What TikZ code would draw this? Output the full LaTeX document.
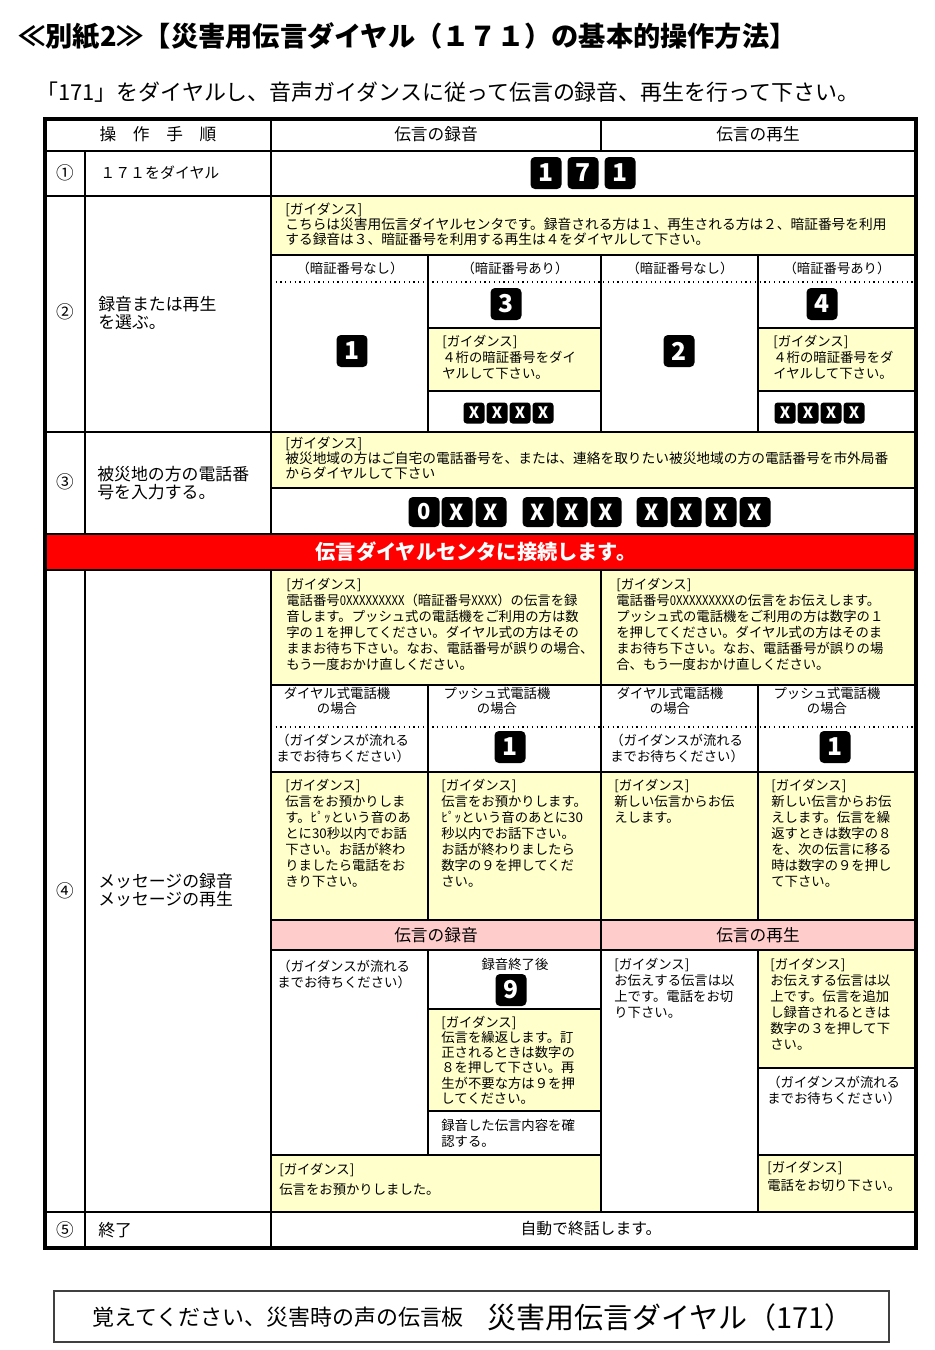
\documentclass[tikz,border=0pt]{standalone}
\usepackage{fontspec}
\usepackage{graphicx}
\setmainfont{Noto Sans CJK JP}
\usetikzlibrary{positioning}
\definecolor{Paper}{HTML}{FFFFFF}
\definecolor{GuideYellow}{HTML}{FFFFCC}
\definecolor{HeadPink}{HTML}{FFCCCC}
\definecolor{AlertRed}{HTML}{FF0000}
\definecolor{Ink}{HTML}{000000}
\definecolor{BoxGray}{HTML}{404040}
\newcommand{\xrun}[1]{\scalebox{0.85}[1]{#1}}

\begin{document}
\begin{tikzpicture}[x=0.02cm,y=-0.02cm,every node/.style={text=Ink,inner sep=0pt},frame/.style={line width=1.8pt,draw=Ink},major/.style={line width=1.1pt,draw=Ink},minor/.style={line width=0.75pt,draw=Ink},dotline/.style={line width=0.7pt,draw=Ink,dotted},guide/.style={anchor=north west,align=left,font=\fontsize{7.6}{9.1}\selectfont},guidewide/.style={anchor=north west,align=left,font=\fontsize{7.8}{8.4}\selectfont},steptext/.style={anchor=west,align=left,font=\fontsize{9.6}{10.2}\selectfont},stepnum/.style={font=\fontsize{10}{10}\selectfont},colhead/.style={font=\fontsize{9.5}{10}\selectfont},subhead/.style={align=center,font=\fontsize{7.6}{8.4}\selectfont},keycap/.style={fill=Ink,rounded corners=2.5pt,text=white,minimum width=0.62cm,minimum height=0.64cm,font=\fontsize{14}{14}\bfseries\selectfont},keymid/.style={keycap,minimum width=0.62cm,minimum height=0.6cm,font=\fontsize{12.5}{12.5}\bfseries\selectfont},keysmall/.style={keycap,rounded corners=1.8pt,minimum width=0.42cm,minimum height=0.42cm,font=\fontsize{9}{9}\bfseries\selectfont}]
\fill[Paper] (0,0) rectangle (935,1350);
\useasboundingbox (0,0) rectangle (935,1350);
\node[anchor=west,font=\fontsize{15.5}{16}\bfseries\selectfont] (title) at (18,36) {≪別紙2≫【災害用伝言ダイヤル（１７１）の基本的操作方法】};
\node[anchor=west,font=\fontsize{12.5}{13}\selectfont] (lead) at (36,92) {「171」をダイヤルし、音声ガイダンスに従って伝言の録音、再生を行って下さい。};
\foreach \a/\b/\c/\d in {271/196/916/255,428/328/601/391,758/328/916/391,271/432/916/488,271/570/916/685,271/772/916/920,428/1009/601/1111,271/1155/601/1212,758/950/916/1068,758/1155/916/1212}
  \fill[GuideYellow] (\a,\b) rectangle (\c,\d);
\fill[HeadPink] (271,920) rectangle (916,950);
\fill[AlertRed] (45,534) rectangle (916,570);
\foreach \y in {151,196,432,534,570,1212} \draw[major] (45,\y) -- (916,\y);
\draw[major] (85,151) -- (85,534) (85,570) -- (85,1248) (271,119) -- (271,534) (271,570) -- (271,1248);
\draw[minor] (601,119) -- (601,151) (601,255) -- (601,432) (601,570) -- (601,1212);
\draw[minor] (428,255) -- (428,432) (758,255) -- (758,432) (428,685) -- (428,920) (758,685) -- (758,920) (428,950) -- (428,1155) (758,950) -- (758,1212);
\foreach \y in {255,488,685,772,920,950} \draw[minor] (271,\y) -- (916,\y);
\foreach \y in {328,391} \draw[minor] (428,\y) -- (601,\y) (758,\y) -- (916,\y);
\draw[minor] (428,1009) -- (601,1009) (428,1111) -- (601,1111) (271,1155) -- (601,1155) (758,1068) -- (916,1068) (758,1155) -- (916,1155);
\draw[dotline] (271,282) -- (916,282) (271,727) -- (916,727);
\draw[frame] (45,119) rectangle (916,1248);
\node[colhead] (hstep) at (158,134) {操　作　手　順};
\node[colhead] (hrec) at (436,134) {伝言の録音};
\node[colhead] (hplay) at (758,134) {伝言の再生};
\foreach \n/\y [count=\i] in {①/173,②/312,③/482,④/891,⑤/1230} \node[stepnum] (circ-\i) at (65,\y) {\n};
\node[steptext,font=\fontsize{8.5}{9}\selectfont] (s1) at (100,173) {１７１をダイヤル};
\node[steptext] (s2) at (98,313) {録音または再生\\を選ぶ。};
\node[steptext] (s3) at (97,483) {被災地の方の電話番\\号を入力する。};
\node[steptext] (s4) at (98,890) {メッセージの録音\\メッセージの再生};
\node[steptext] (s5) at (98,1230) {終了};
\foreach \d [count=\i] in {1,7,1} \node[keycap] (k171-\i) at ({509+37*\i},173) {\d};
\node[guidewide] (g2) at (285,203) {[ガイダンス]\\こちらは災害用伝言ダイヤルセンタです。録音される方は１、再生される方は２、暗証番号を利用\\する録音は３、暗証番号を利用する再生は４をダイヤルして下さい。};
\foreach \x/\t [count=\i] in {350/なし,515/あり,680/なし,837/あり} \node[subhead] (pin-\i) at (\x,268) {（暗証番号\t）};
\node[keycap] (k1) at (352,351) {1};
\node[keycap] (k3) at (506,304) {3};
\node[keycap] (k2) at (679,351) {2};
\node[keycap] (k4) at (822,304) {4};
\node[guide] (g2a) at (442,335) {[ガイダンス]\\４桁の暗証番号をダイ\\ヤルして下さい。};
\node[guide] (g2b) at (773,335) {[ガイダンス]\\４桁の暗証番号をダ\\イヤルして下さい。};
\foreach \i in {0,...,3} {
  \node[keysmall] (pa-\i) at ({474+23*\i},413) {X};
  \node[keysmall] (pb-\i) at ({785+23*\i},413) {X};
}
\node[guidewide] (g3) at (285,437) {[ガイダンス]\\被災地域の方はご自宅の電話番号を、または、連絡を取りたい被災地域の方の電話番号を市外局番\\からダイヤルして下さい};
\foreach \x/\d [count=\i] in {424/0,457/X,491/X,538/X,572/X,606/X,652/X,686/X,721/X,755/X} \node[keymid] (tel-\i) at (\x,512) {\d};
\node[text=white,font=\fontsize{11.5}{12}\bfseries\selectfont] (connect) at (476,552) {伝言ダイヤルセンタに接続します。};
\node[guide] (g4rec) at (286,578) {[ガイダンス]\\電話番号\xrun{0XXXXXXXXX}（暗証番号\xrun{XXXX}）の伝言を録\\音します。プッシュ式の電話機をご利用の方は数\\字の１を押してください。ダイヤル式の方はその\\ままお待ち下さい。なお、電話番号が誤りの場合、\\もう一度おかけ直しください。};
\node[guide] (g4play) at (616,578) {[ガイダンス]\\電話番号\xrun{0XXXXXXXXX}の伝言をお伝えします。\\プッシュ式の電話機をご利用の方は数字の１\\を押してください。ダイヤル式の方はそのま\\まお待ち下さい。なお、電話番号が誤りの場\\合、もう一度おかけ直しください。};
\node[subhead] (dial-rec) at (337,701) {ダイヤル式電話機\\の場合};
\node[subhead] (push-rec) at (497,701) {プッシュ式電話機\\の場合};
\node[subhead] (dial-play) at (670,701) {ダイヤル式電話機\\の場合};
\node[subhead] (push-play) at (827,701) {プッシュ式電話機\\の場合};
\node[guide] (wait-rec) at (276,734) {（ガイダンスが流れる\\までお待ちください）};
\node[guide] (wait-play) at (610,734) {（ガイダンスが流れる\\までお待ちください）};
\node[keycap] (one-rec) at (510,747) {1};
\node[keycap] (one-play) at (835,747) {1};
\node[guide] (g4a) at (285,779) {[ガイダンス]\\伝言をお預かりしま\\す。ﾋﾟｯという音のあ\\とに30秒以内でお話\\下さい。お話が終わ\\りましたら電話をお\\きり下さい。};
\node[guide] (g4b) at (441,779) {[ガイダンス]\\伝言をお預かりします。\\ﾋﾟｯという音のあとに30\\秒以内でお話下さい。\\お話が終わりましたら\\数字の９を押してくだ\\さい。};
\node[guide] (g4c) at (614,779) {[ガイダンス]\\新しい伝言からお伝\\えします。};
\node[guide] (g4d) at (771,779) {[ガイダンス]\\新しい伝言からお伝\\えします。伝言を繰\\返すときは数字の８\\を、次の伝言に移る\\時は数字の９を押し\\て下さい。};
\node[colhead] (rec2) at (436,935) {伝言の録音};
\node[colhead] (play2) at (758,935) {伝言の再生};
\node[guide] (wait-rec2) at (277,960) {（ガイダンスが流れる\\までお待ちください）};
\node[guide,anchor=center] (after) at (515,964) {録音終了後};
\node[keycap] (k9) at (511,990) {9};
\node[guide,font=\fontsize{7.6}{8.6}\selectfont] (g5a) at (441,1016) {[ガイダンス]\\伝言を繰返します。訂\\正されるときは数字の\\８を押して下さい。再\\生が不要な方は９を押\\してください。};
\node[guide] (confirm) at (441,1119) {録音した伝言内容を確\\認する。};
\node[guide,font=\fontsize{7.6}{11.2}\selectfont] (g5b) at (279,1163) {[ガイダンス]\\伝言をお預かりしました。};
\node[guide] (g5c) at (614,958) {[ガイダンス]\\お伝えする伝言は以\\上です。電話をお切\\り下さい。};
\node[guide] (g5d) at (770,958) {[ガイダンス]\\お伝えする伝言は以\\上です。伝言を追加\\し録音されるときは\\数字の３を押して下\\さい。};
\node[guide] (wait-play2) at (767,1076) {（ガイダンスが流れる\\までお待ちください）};
\node[guide,font=\fontsize{7.6}{10.2}\selectfont] (g5e) at (767,1161) {[ガイダンス]\\電話をお切り下さい。};
\node[font=\fontsize{9}{9}\selectfont] (autoend) at (591,1228) {自動で終話します。};
\draw[line width=1pt,draw=BoxGray] (54,1291) rectangle (889,1342);
\node[anchor=west,font=\fontsize{12.5}{13}\selectfont] (remember) at (92,1317) {覚えてください、災害時の声の伝言板};
\node[anchor=west,font=\fontsize{16.5}{17}\selectfont] (slogan) at (487,1317) {災害用伝言ダイヤル（171）};
\end{tikzpicture}
\end{document}
